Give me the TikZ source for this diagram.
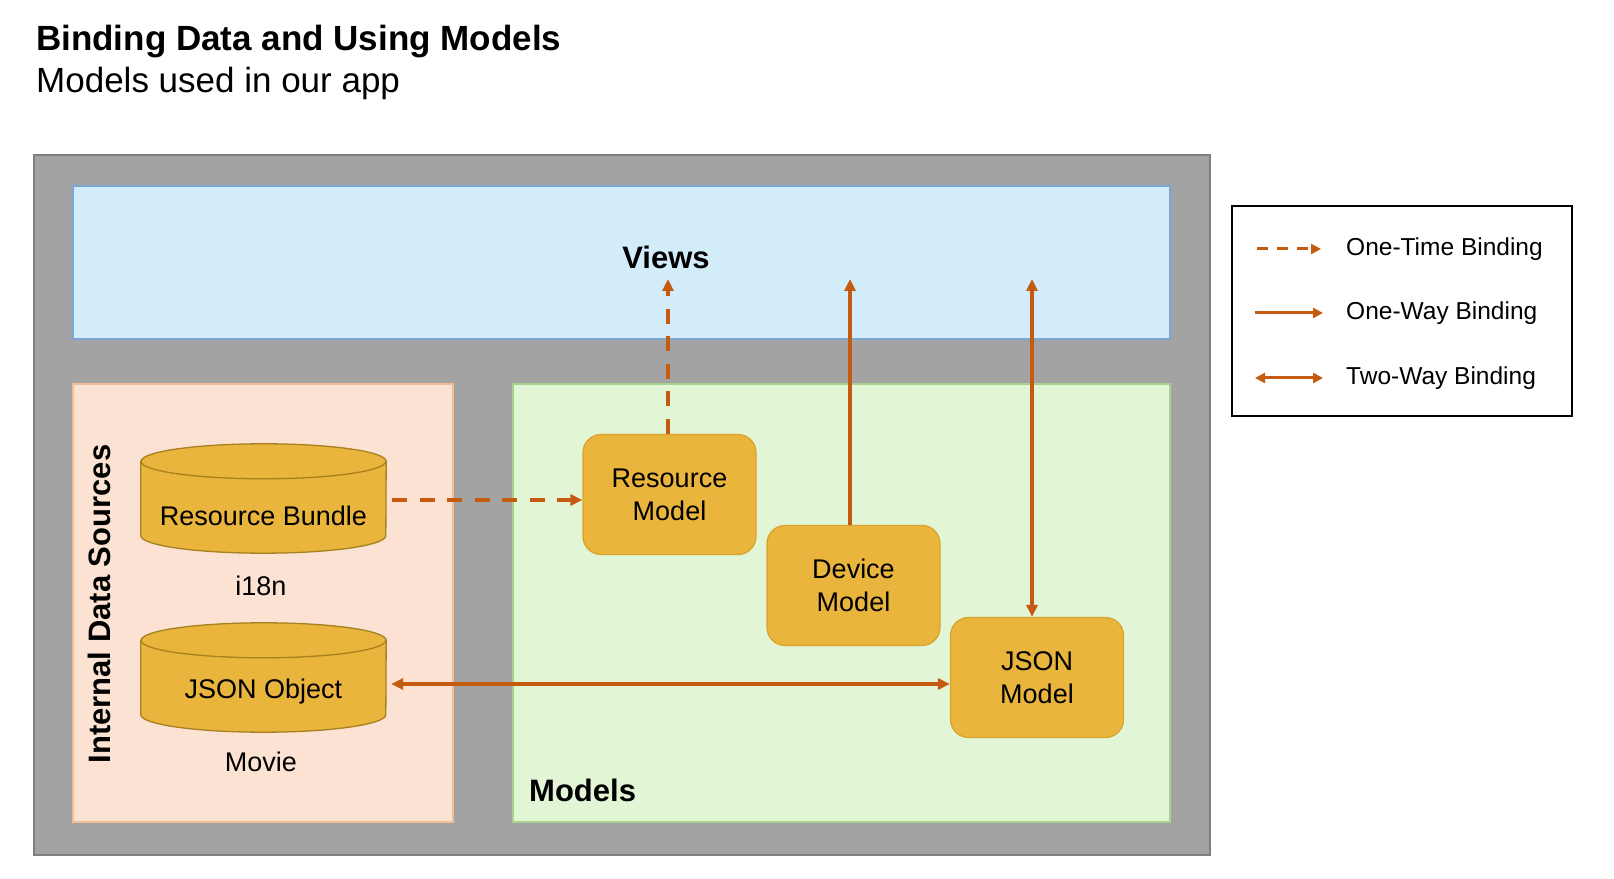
\documentclass[tikz,border=0pt]{standalone}
\usepackage{fontspec}
\setmainfont{Liberation Sans}
\usetikzlibrary{arrows.meta,calc}
\definecolor{framegray}{HTML}{A3A3A3}
\definecolor{frameedge}{HTML}{7F7F7F}
\definecolor{viewfill}{HTML}{D2ECFA}
\definecolor{viewedge}{HTML}{7DA6D6}
\definecolor{idsfill}{HTML}{FBE2D3}
\definecolor{idsedge}{HTML}{F2BC94}
\definecolor{modfill}{HTML}{E2F6D6}
\definecolor{modedge}{HTML}{AAD28F}
\definecolor{gold}{HTML}{E9B53C}
\definecolor{goldedge}{HTML}{D9A22C}
\definecolor{cyledge}{HTML}{A7801F}
\definecolor{arrowc}{HTML}{C55A11}
\newcommand\mycyl[1]{%
  \path[fill=gold,draw=cyledge,line width=1.3pt]
    ($(#1.north west)+(0,-17.5)$) -- ($(#1.south west)+(0,17.5)$)
    arc[start angle=180,end angle=360,x radius=122.5,y radius=17.5]
    -- ($(#1.north east)+(0,-17.5)$)
    arc[start angle=0,end angle=180,x radius=122.5,y radius=17.5] -- cycle;
  \draw[draw=cyledge,line width=1.3pt] ($(#1.north west)+(0,-17.5)$)
    arc[start angle=180,end angle=360,x radius=122.5,y radius=17.5];}
\tikzset{
  region/.style={draw,line width=1.5pt,inner sep=0pt},
  modelbox/.style={fill=gold,draw=goldedge,line width=1.2pt,rounded corners=18pt,
     minimum width=173pt,minimum height=120pt,align=center,
     font=\fontsize{27}{33}\selectfont},
  cylbox/.style={minimum width=245pt,minimum height=109pt,inner sep=0pt,
     font=\fontsize{27}{33}\selectfont},
  plain/.style={font=\fontsize{27}{33}\selectfont,inner sep=0pt},
  heading/.style={font=\fontsize{31}{37}\selectfont\bfseries,inner sep=0pt},
  legtext/.style={font=\fontsize{24.5}{30}\selectfont,inner sep=0pt,anchor=west},
  conn/.style={draw=arrowc,line width=3.4pt},
  tip/.style={Triangle[length=12pt,width=11pt]},
  onetime/.style={conn,dash pattern=on 15pt off 12.5pt,-{Triangle[length=12pt,width=11pt]}},
  oneway/.style={conn,-{Triangle[length=12pt,width=11pt]}},
  twoway/.style={conn,{Triangle[length=12pt,width=11pt]}-{Triangle[length=12pt,width=11pt]}},
}
\begin{document}
\begin{tikzpicture}[x=1pt,y=1pt]
\useasboundingbox (0,0) rectangle (1614,878);
\fill[white] (0,0) rectangle (1614,878);
% title
\node[anchor=base west,inner sep=0pt,font=\fontsize{35}{40}\selectfont\bfseries] (title) at (36,827) {Binding Data and Using Models};
\node[anchor=base west,inner sep=0pt,font=\fontsize{35}{40}\selectfont] (subtitle) at (36,785) {Models used in our app};
% regions
\node[region,fill=framegray,draw=frameedge,minimum width=1176pt,minimum height=700pt] (frame) at (622,373) {};
\node[region,fill=viewfill,draw=viewedge,minimum width=1097pt,minimum height=153pt] (views) at (621.5,615.5) {};
\node[region,fill=idsfill,draw=idsedge,minimum width=380pt,minimum height=438pt] (ids) at (263,275) {};
\node[region,fill=modfill,draw=modedge,minimum width=657pt,minimum height=438pt] (models) at (841.5,275) {};
% region labels
\node[heading] (viewslbl) at (666,621) {Views};
\node[heading,anchor=west] (modelslbl) at (529,88) {Models};
\node[heading,rotate=90] (idslbl) at (99,274) {Internal Data Sources};
% cylinders
\node[cylbox] (rb) at (263.5,379.5) {};
\mycyl{rb}
\node[plain] (rbtext) at (263.5,362) {Resource Bundle};
\node[plain] (i18n) at (261,292) {i18n};
\node[cylbox] (jo) at (263.5,200.5) {};
\mycyl{jo}
\node[plain] (jotext) at (263.5,186) {JSON Object};
\node[plain] (movie) at (261,116) {Movie};
% models
\node[modelbox] (rm) at (669.5,383.5) {Resource\\Model};
\node[modelbox] (dm) at (853.5,292.5) {Device\\Model};
\node[modelbox] (jm) at (1037,200.5) {JSON\\Model};
% connectors
\coordinate (v1) at (668,599);
\coordinate (v2) at (850,599);
\coordinate (v3) at (1032,599);
\draw[onetime] ([xshift=6pt,yshift=-1.5pt]rb.east) -- ([yshift=-1.5pt]rb.east -| rm.west);
\draw[onetime] (v1 |- rm.north) -- (v1);
\draw[oneway] (v2 |- dm.north) -- (v2);
\draw[twoway] (v3 |- jm.north) -- (v3);
\draw[twoway] ([xshift=5pt,yshift=-6.5pt]jo.east) -- ([yshift=-6.5pt]jo.east -| jm.west);
% legend
\node[draw=black,line width=2pt,minimum width=340pt,minimum height=210pt,inner sep=0pt] (legend) at (1402,567) {};
\coordinate (l1a) at (1257,629); \coordinate (l1b) at (1321,629);
\coordinate (l2a) at (1255,565); \coordinate (l2b) at (1323,565);
\coordinate (l3a) at (1255,500); \coordinate (l3b) at (1323,500);
\draw[onetime,line width=3pt,dash pattern=on 11pt off 9pt,-{Triangle[length=10pt,width=10pt]}] (l1a) -- (l1b);
\draw[oneway,line width=3pt,-{Triangle[length=10pt,width=10pt]}] (l2a) -- (l2b);
\draw[twoway,line width=3pt,{Triangle[length=10pt,width=10pt]}-{Triangle[length=10pt,width=10pt]}] (l3a) -- (l3b);
\node[legtext] (lt1) at (1346,629) {One-Time Binding};
\node[legtext] (lt2) at (1346,565) {One-Way Binding};
\node[legtext] (lt3) at (1346,500) {Two-Way Binding};
\end{tikzpicture}
\end{document}
